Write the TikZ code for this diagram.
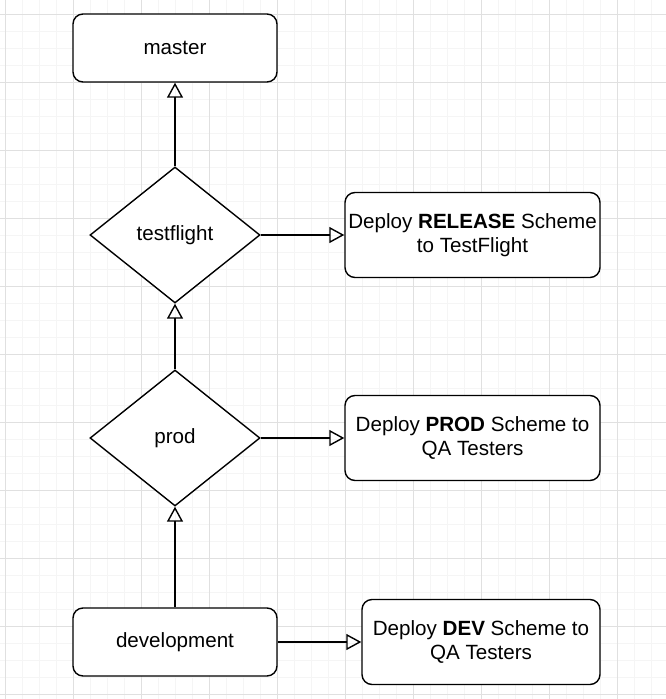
\documentclass[tikz,border=0pt]{standalone}
\usepackage{fontspec}
\setmainfont{Liberation Sans}
\usetikzlibrary{positioning}
\usetikzlibrary{arrows.meta}
\usetikzlibrary{shapes.geometric}

\tikzset{
  branch/.style={draw, line width=1.4pt, rounded corners=10pt, fill=white,
    minimum width=204pt, minimum height=68pt, inner xsep=2pt,
    font=\fontsize{20.6}{24.5}\selectfont},
  deploybox/.style={branch, align=center, minimum height=85pt},
  gate/.style={draw, diamond, line width=1.4pt, fill=white, inner sep=0pt,
    minimum width=170pt, minimum height=136pt,
    font=\fontsize{20.6}{24.5}\selectfont},
  push/.style={-{Triangle[open, length=15pt, width=16pt]}, line width=1.4pt},
}

\begin{document}
\begin{tikzpicture}[x=1pt, y=-1pt]
  \useasboundingbox (0,0) rectangle (666,699);
  % grid
  \foreach \x in {5,22,...,665} \draw[black!4] (\x,0) -- (\x,699);
  \foreach \y in {14,31,...,698} \draw[black!4] (0,\y) -- (666,\y);
  \foreach \x in {5,73,...,665} \draw[black!12] (\x,0) -- (\x,699);
  \foreach \y in {14,82,...,698} \draw[black!12] (0,\y) -- (666,\y);

  \node[branch] (master) at (175,48) {master};
  \node[gate] (testflight) at (175,235) {testflight};
  \node[gate] (prod) at (175,438) {prod};
  \node[branch] (development) at (175,642) {development};

  \node[deploybox, minimum width=255pt] (release) at (472.5,235)
    {Deploy \textbf{RELEASE} Scheme\\to TestFlight};
  \node[deploybox, minimum width=255pt] (prodqa) at (472.5,438)
    {Deploy \textbf{PROD} Scheme to\\QA Testers};
  \node[deploybox, minimum width=238pt] (devqa) at (481,642)
    {Deploy \textbf{DEV} Scheme to\\QA Testers};

  \draw[push] (testflight.north) -- (master.south);
  \draw[push] (prod.north) -- (testflight.south);
  \draw[push] (development.north) -- (prod.south);
  \draw[push] (testflight.east) -- (release.west);
  \draw[push] (prod.east) -- (prodqa.west);
  \draw[push] (development.east) -- (devqa.west);
\end{tikzpicture}
\end{document}
